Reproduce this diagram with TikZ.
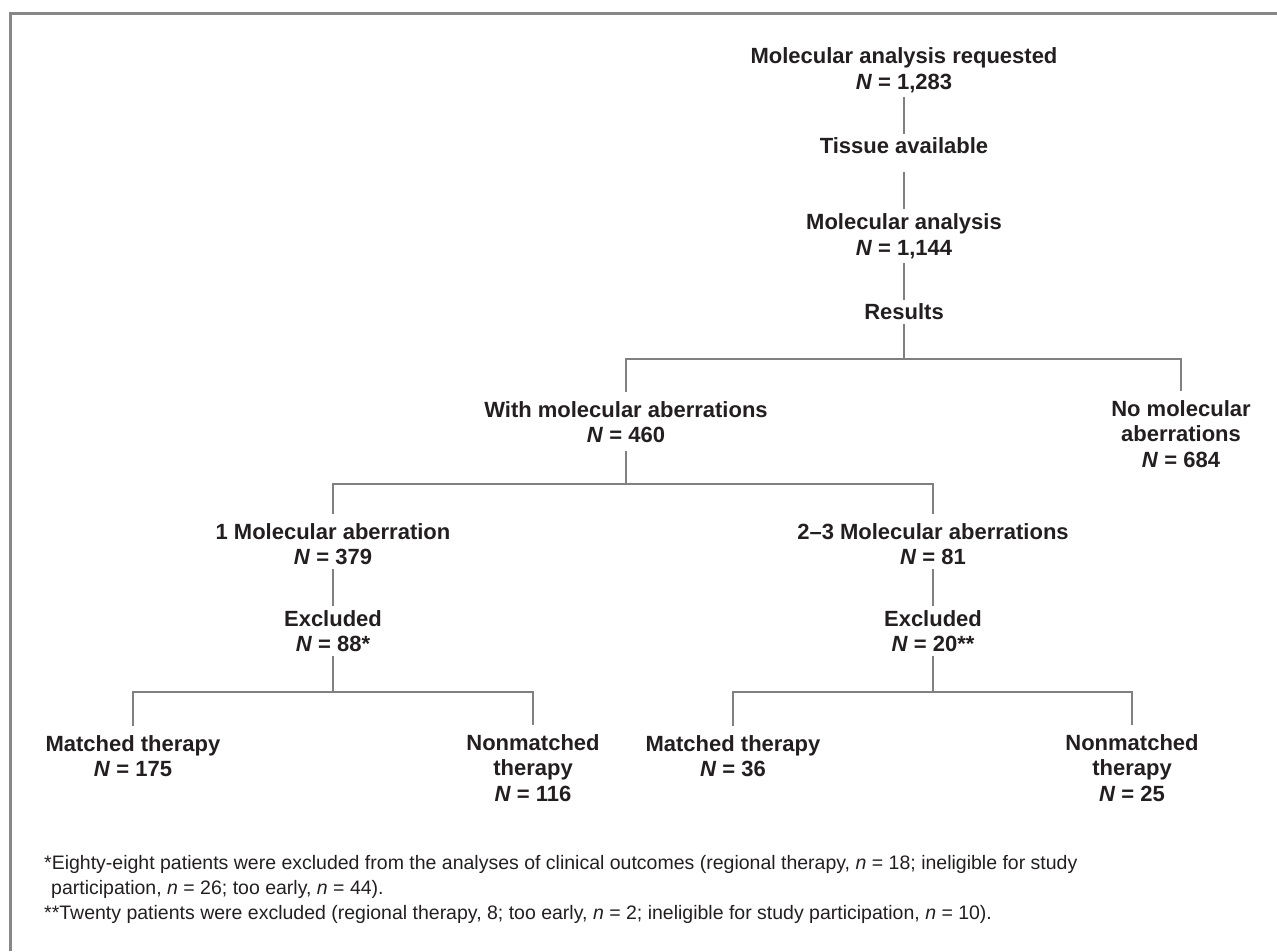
\documentclass[tikz,border=0pt]{standalone}
\usepackage{fontspec}
\setmainfont{Liberation Sans}
\usepackage{tikz}
\usetikzlibrary{calc}
\definecolor{inkdark}{RGB}{35,31,32}
\definecolor{linegray}{RGB}{128,128,128}
\definecolor{framegray}{RGB}{135,135,135}

\begin{document}
\begin{tikzpicture}[x=1pt, y=-1pt,
  box/.style={font=\fontsize{22}{25.5}\selectfont\bfseries, text=inkdark,
    align=center, inner sep=0pt},
  note/.style={font=\fontsize{19.5}{25}\selectfont, text=inkdark,
    align=left, inner sep=0pt},
  link/.style={draw=linegray, line width=1.6pt, shorten <=4pt, shorten >=4pt},
]
  \useasboundingbox (0,0) rectangle (1277,951);
  % Frame
  \draw[framegray, line width=3pt] (1277,13) -- (10,13) -- (10,951);

  % Main chain
  \node[box] (req) at (904,70) {Molecular analysis requested\\\textit{N} = 1,283};
  \node[box] (tissue) at (904,146) {Tissue available};
  \node[box] (molan) at (904,236) {Molecular analysis\\\textit{N} = 1,144};
  \node[box] (results) at (904,312) {Results};

  % Split by aberrations
  \node[box] (withab) at (626,422) {With molecular aberrations\\\textit{N} = 460};
  \node[box] (noab) at (1181,434) {No molecular\\aberrations\\\textit{N} = 684};
  \node[box] (oneab) at (333,544) {1 Molecular aberration\\\textit{N} = 379};
  \node[box] (twoab) at (933,544) {2–3 Molecular aberrations\\\textit{N} = 81};
  \node[box] (exclone) at (333,631) {Excluded\\\textit{N} = 88*};
  \node[box] (excltwo) at (933,631) {Excluded\\\textit{N} = 20**};

  % Therapy groups
  \node[box] (matchone) at (133,756) {Matched therapy\\\textit{N} = 175};
  \node[box] (nonone) at (533,768) {Nonmatched\\therapy\\\textit{N} = 116};
  \node[box] (matchtwo) at (733,756) {Matched therapy\\\textit{N} = 36};
  \node[box] (nontwo) at (1132,768) {Nonmatched\\therapy\\\textit{N} = 25};

  \coordinate (splitA) at (904,359);
  \coordinate (splitB) at (626,484);
  \coordinate (splitC) at (333,692);
  \coordinate (splitD) at (933,692);

  % Connectors
  \draw[link] (req) -- (tissue);
  \draw[link, shorten <=18pt] (tissue) -- (molan);
  \draw[link] (molan) -- (results);
  \draw[link, shorten >=0pt] (results) -- (splitA);
  \draw[link, shorten <=9pt, shorten >=9pt] (withab.north) |- (splitA) -| (noab.north);
  \draw[link, shorten >=0pt, shorten <=8pt] (withab) -- (splitB);
  \draw[link, shorten <=9pt, shorten >=9pt] (oneab.north) |- (splitB) -| (twoab.north);
  \draw[link] (oneab) -- (exclone);
  \draw[link] (twoab) -- (excltwo);
  \draw[link, shorten >=0pt] (exclone) -- (splitC);
  \draw[link, shorten >=0pt] (excltwo) -- (splitD);
  \draw[link, shorten <=9pt, shorten >=9pt] (matchone.north) |- (splitC) -| (nonone.north);
  \draw[link, shorten <=9pt, shorten >=9pt] (matchtwo.north) |- (splitD) -| (nontwo.north);

  % Footnotes
  \node[note, anchor=north west] (notes) at (44,854.8)
    {*Eighty-eight patients were excluded from the analyses of clinical outcomes (regional therapy, \textit{n} = 18; ineligible for study\\
     \hspace*{7pt}participation, \textit{n} = 26; too early, \textit{n} = 44).\\
     **Twenty patients were excluded (regional therapy, 8; too early, \textit{n} = 2; ineligible for study participation, \textit{n} = 10).};
\end{tikzpicture}
\end{document}
